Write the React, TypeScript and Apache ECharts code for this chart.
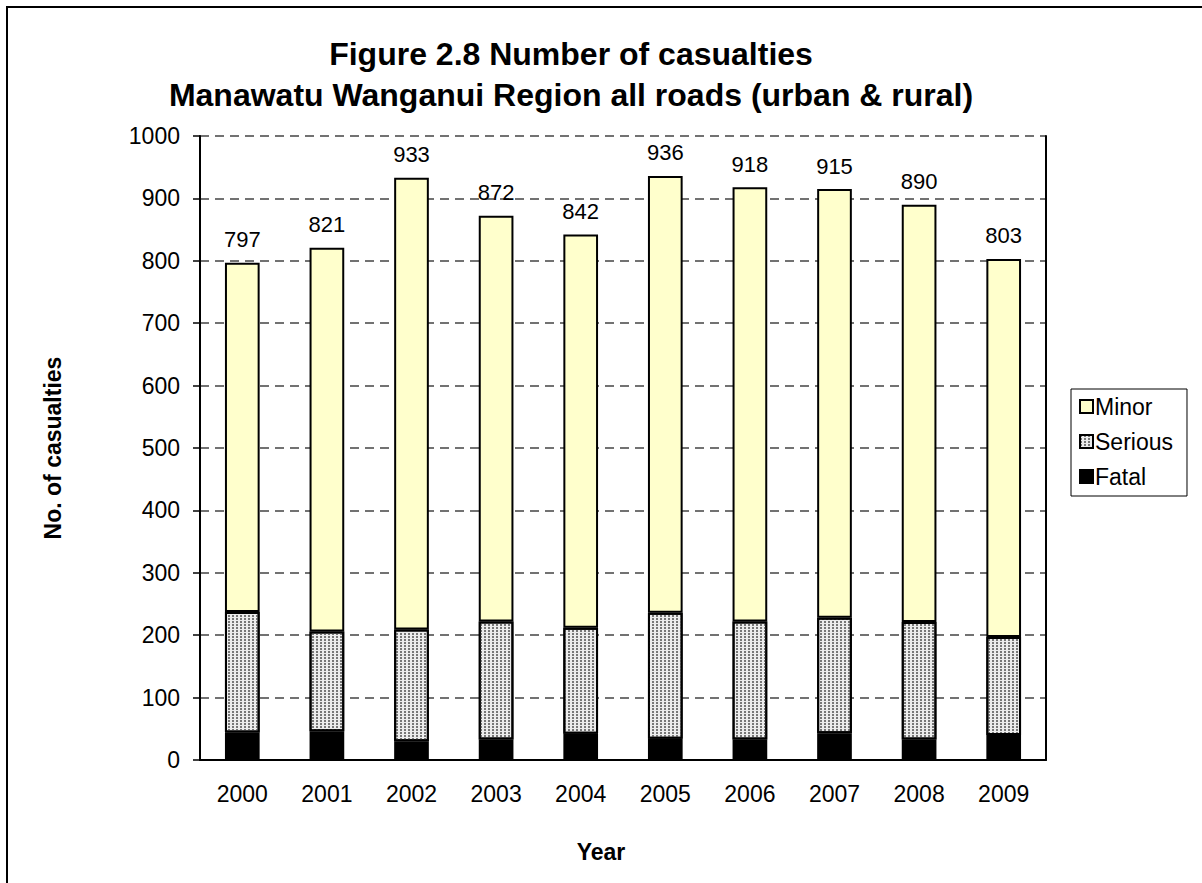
import React, { useEffect, useRef } from "react";
import * as echarts from "echarts";

const years = ["2000", "2001", "2002", "2003", "2004", "2005", "2006", "2007", "2008", "2009"];
const fatal = [44, 46, 30, 33, 42, 34, 33, 43, 33, 40];
const serious = [193, 160, 179, 189, 170, 202, 189, 185, 188, 157];
const minor = [560, 615, 724, 650, 630, 700, 696, 687, 669, 606];
const totals = [797, 821, 933, 872, 842, 936, 918, 915, 890, 803];
const yTicks = [0, 100, 200, 300, 400, 500, 600, 700, 800, 900, 1000];

const FONT = "Arial, 'Liberation Sans', sans-serif";

export default function App() {
  const ref = useRef<HTMLDivElement>(null);
  useEffect(() => {
    if (!ref.current) return;
    const chart = echarts.init(ref.current, undefined, { renderer: "svg" });
    chart.setOption({
      animation: false,
      backgroundColor: "#ffffff",
      textStyle: { fontFamily: FONT, color: "#000" },
      title: {
        text: "Figure 2.8 Number of casualties\nManawatu Wanganui Region all roads (urban & rural)",
        left: 566,
        top: 28,
        textAlign: "center",
        textStyle: { fontFamily: FONT, fontSize: 32, fontWeight: "bold", color: "#000", lineHeight: 41 },
      },
      graphic: [
        {
          type: "rect",
          shape: { x: 7, y: 7, width: 1400, height: 1000 },
          style: { fill: "none", stroke: "#000", lineWidth: 2 },
          silent: true,
        },
      ],
      legend: {
        orient: "vertical",
        left: 1071,
        top: 389,
        data: ["Minor", "Serious", "Fatal"],
        icon: "rect",
        itemWidth: 13,
        itemHeight: 13,
        itemGap: 12,
        padding: [6, 14, 8, 8],
        borderColor: "#000",
        borderWidth: 1,
        textStyle: { fontFamily: FONT, fontSize: 23, color: "#000", padding: [0, 0, 0, -3] },
      },
      grid: { left: 200, right: 156, top: 136, bottom: 123, containLabel: false },
      xAxis: {
        type: "category",
        data: years,
        name: "Year",
        nameLocation: "middle",
        nameGap: 80,
        nameTextStyle: { fontFamily: FONT, fontSize: 23, fontWeight: "bold", color: "#000", padding: [0, 44, 0, 0] },
        axisLine: { lineStyle: { color: "#000", width: 2 } },
        axisTick: { show: false },
        axisLabel: { fontFamily: FONT, fontSize: 23, color: "#000", margin: 22 },
      },
      yAxis: [
        {
          type: "value",
          min: yTicks[0],
          max: yTicks[yTicks.length - 1],
          interval: 100,
          name: "No. of casualties",
          nameLocation: "middle",
          nameRotate: 90,
          nameGap: 136,
          nameTextStyle: { fontFamily: FONT, fontSize: 23, fontWeight: "bold", color: "#000" },
          axisLine: { show: true, lineStyle: { color: "#000", width: 2 } },
          axisTick: { show: true, length: 7, lineStyle: { color: "#000", width: 1.5 } },
          axisLabel: { fontFamily: FONT, fontSize: 23, color: "#000", margin: 20, formatter: (v: number) => String(v) },
          splitLine: { show: true, lineStyle: { color: "#444", width: 1.5, type: [9, 6] } },
        },
        {
          type: "value",
          min: 0,
          max: 1000,
          interval: 100,
          position: "right",
          axisLine: { show: true, lineStyle: { color: "#000", width: 2 } },
          axisTick: { show: false },
          axisLabel: { show: false },
          splitLine: { show: false },
        },
      ],
      series: [
        {
          name: "Fatal",
          type: "bar",
          stack: "total",
          data: fatal,
          barWidth: "41%",
          itemStyle: { color: "#000000", borderColor: "#000", borderWidth: 2 },
        },
        {
          name: "Serious",
          type: "bar",
          stack: "total",
          data: serious,
          barWidth: "41%",
          itemStyle: {
            color: "#ececec",
            borderColor: "#000",
            borderWidth: 2,
            decal: {
              symbol: "rect",
              symbolSize: 1,
              dashArrayX: [2, 2],
              dashArrayY: [2, 1],
              color: "#777777",
            },
          },
        },
        {
          name: "Minor",
          type: "bar",
          stack: "total",
          data: minor,
          barWidth: "41%",
          itemStyle: { color: "#FFFFCC", borderColor: "#000", borderWidth: 2 },
          label: {
            show: true,
            position: "top",
            distance: 12,
            fontFamily: FONT,
            fontSize: 22,
            color: "#000",
            formatter: (p: any) => String(totals[p.dataIndex]),
          },
        },
      ],
    });
    return () => chart.dispose();
  }, []);
  return (
    <div
      ref={ref}
      style={{ position: "absolute", left: 0, top: 0, width: 1202, height: 883, background: "#fff" }}
    />
  );
}
